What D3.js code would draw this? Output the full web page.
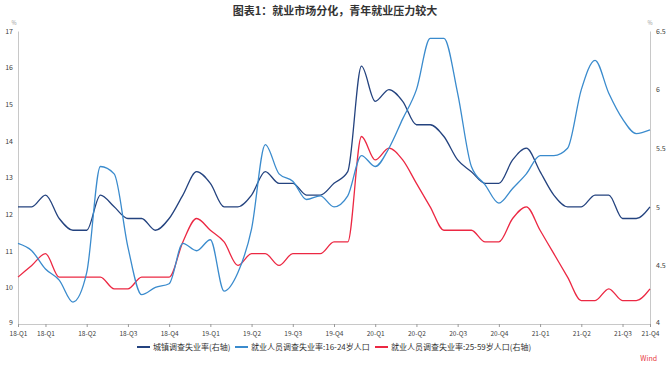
<!DOCTYPE html>
<html><head><meta charset="utf-8">
<script src="https://cdn.jsdelivr.net/npm/d3@7"></script>
<style>
html,body{margin:0;padding:0;background:#fff;}
svg{display:block;font-family:"Noto Sans CJK SC","Noto Sans",sans-serif;}
</style></head>
<body>
<svg id="chart" width="670" height="365"></svg>
<script>
const months = [];
for (let y = 2018; y <= 2021; y++) for (let m = 1; m <= 12; m++) { if (y === 2021 && m > 11) break; months.push(y + "-" + String(m).padStart(2, "0")); }

const urbanRate = [5.0,5.0,5.1,4.9,4.8,4.8,5.1,5.0,4.9,4.9,4.8,4.9,
                   5.1,5.3,5.2,5.0,5.0,5.1,5.3,5.2,5.2,5.1,5.1,5.2,
                   5.3,6.2,5.9,6.0,5.9,5.7,5.7,5.6,5.4,5.3,5.2,5.2,
                   5.4,5.5,5.3,5.1,5.0,5.0,5.1,5.1,4.9,4.9,5.0];
const youthRate = [11.2,11.0,10.5,10.2,9.6,10.4,13.3,13.1,11.1,9.8,10.0,10.1,
                   11.2,11.0,11.3,9.9,10.4,11.6,13.9,13.1,12.9,12.4,12.5,12.2,
                   12.5,13.6,13.3,13.8,14.6,15.4,16.8,16.8,15.3,13.3,12.8,12.3,
                   12.7,13.1,13.6,13.6,13.8,15.4,16.2,15.3,14.6,14.2,14.3];
const primeRate = [4.4,4.5,4.6,4.4,4.4,4.4,4.4,4.3,4.3,4.4,4.4,4.4,
                   4.7,4.9,4.8,4.7,4.5,4.6,4.6,4.5,4.6,4.6,4.6,4.7,
                   4.7,5.6,5.4,5.5,5.4,5.2,5.0,4.8,4.8,4.8,4.7,4.7,
                   4.9,5.0,4.8,4.6,4.4,4.2,4.2,4.3,4.2,4.2,4.3];

const tickMonths = ["2018-01","2018-03","2018-06","2018-09","2018-12","2019-03","2019-06","2019-09","2019-12",
                    "2020-03","2020-06","2020-09","2020-12","2021-03","2021-06","2021-09","2021-11"];
const tickLabels = ["18-Q1","18-Q1","18-Q2","18-Q3","18-Q4","19-Q1","19-Q2","19-Q3","19-Q4",
                    "20-Q1","20-Q2","20-Q3","20-Q4","21-Q1","21-Q2","21-Q3","21-Q4"];
const leftTicks = [9,10,11,12,13,14,15,16,17];
const rightTicks = [4,4.5,5,5.5,6,6.5];

const seriesNames = ["城镇调查失业率(右轴)","就业人员调查失业率:16-24岁人口","就业人员调查失业率:25-59岁人口(右轴)"];
const seriesColors = ["#24437f","#3a8bcd","#ec2843"];

const svg = d3.select("#chart");
const L = 18, R = 650, T = 31, B = 324;
const x = d3.scalePoint().domain(months).range([L, R]).padding(0);
const yL = d3.scaleLinear().domain([9, 17]).range([B, T]);
const yR = d3.scaleLinear().domain([4, 6.5]).range([B, T]);
const axisColor = "#c8c8c8", textColor = "#404040";

svg.append("text").attr("x", 335).attr("y", 15).attr("text-anchor", "middle")
  .attr("font-size", 11).attr("font-weight", "bold").attr("fill", "#333").text("图表1：就业市场分化，青年就业压力较大");

// axes
const gL = svg.append("g").attr("transform", `translate(${L},0)`)
  .call(d3.axisLeft(yL).tickValues(leftTicks).tickSize(0).tickPadding(5).tickFormat(d3.format("d")));
const gR = svg.append("g").attr("transform", `translate(${R},0)`)
  .call(d3.axisRight(yR).tickValues(rightTicks).tickSize(0).tickPadding(6).tickFormat(d => String(d)));
const gX = svg.append("g").attr("transform", `translate(0,${B})`)
  .call(d3.axisBottom(x).tickValues(tickMonths).tickSize(3).tickPadding(4)
    .tickFormat((d, i) => tickLabels[i]));
[gL, gR, gX].forEach(g => {
  g.select(".domain").attr("stroke", axisColor).attr("stroke-width", 1);
  g.selectAll(".tick line").attr("stroke", "#999");
  g.selectAll("text").attr("fill", textColor).attr("font-size", 7)
    .attr("font-family", "'Noto Sans CJK SC','Noto Sans',sans-serif");
});
gX.selectAll("text").attr("font-size", 6.5);
gL.selectAll(".tick text").filter(d => d === 9).attr("dy", "0.1em");
gR.selectAll(".tick text").filter(d => d === 4).attr("dy", "0.1em");

svg.append("text").attr("x", 14).attr("y", 25).attr("text-anchor", "middle").attr("font-size", 5.5).attr("fill", "#999").text("%");
svg.append("text").attr("x", 650).attr("y", 25).attr("text-anchor", "middle").attr("font-size", 5.5).attr("fill", "#999").text("%");

const curve = d3.curveMonotoneX;
const lineR = d3.line().x((d, i) => x(months[i])).y(d => yR(d)).curve(curve);
const lineL = d3.line().x((d, i) => x(months[i])).y(d => yL(d)).curve(curve);

svg.append("path").datum(primeRate).attr("d", lineR).attr("fill", "none").attr("stroke", seriesColors[2]).attr("stroke-width", 1.3);
svg.append("path").datum(urbanRate).attr("d", lineR).attr("fill", "none").attr("stroke", seriesColors[0]).attr("stroke-width", 1.3);
svg.append("path").datum(youthRate).attr("d", lineL).attr("fill", "none").attr("stroke", seriesColors[1]).attr("stroke-width", 1.3);

// legend
const legendX = [137, 235, 375];
const lg = svg.append("g");
seriesNames.forEach((name, i) => {
  lg.append("line").attr("x1", legendX[i]).attr("x2", legendX[i] + 13).attr("y1", 347).attr("y2", 347)
    .attr("stroke", seriesColors[i]).attr("stroke-width", 2);
  lg.append("text").attr("x", legendX[i] + 16).attr("y", 350).attr("font-size", 8).attr("fill", "#333").text(name);
});

svg.append("text").attr("x", 657).attr("y", 361).attr("text-anchor", "end").attr("font-size", 7).attr("fill", "#e8363c").text("Wind");
</script>
</body></html>
